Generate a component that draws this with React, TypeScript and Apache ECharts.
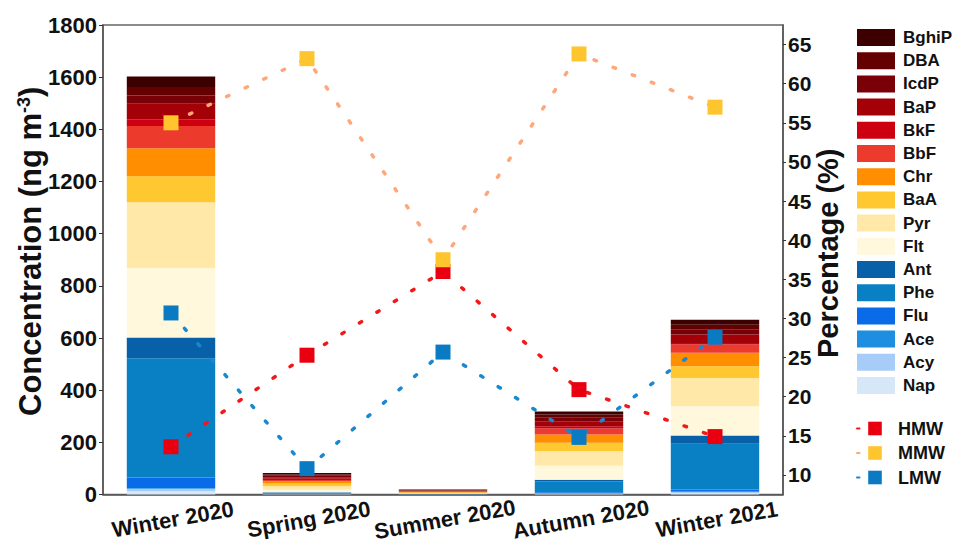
import React, { useEffect, useRef } from "react";
import * as echarts from "echarts";

const categories = ["Winter 2020", "Spring 2020", "Summer 2020", "Autumn 2020", "Winter 2021"];

// PAH concentrations (ng m-3), stacked bottom -> top
const nap = [12, 1, 0.5, 2, 6];
const acy = [10, 1, 0.3, 2, 4];
const ace = [3, 1, 0.3, 2, 2];
const flu = [40, 1, 0.3, 3, 7];
const phe = [457, 4, 1, 42, 176];
const ant = [80, 1, 0.3, 6, 31];
const flt = [266, 10, 1.5, 54, 112];
const pyr = [252, 13, 1.5, 55, 109];
const baa = [100, 10, 1.5, 32, 45];
const chr = [107, 9, 2, 32, 51];
const bbf = [86, 5, 2.5, 23, 32];
const bkf = [26, 4, 1, 9, 6];
const bap = [59, 6, 2, 19, 32];
const icdp = [32, 6, 1.5, 13, 19];
const dba = [32, 5, 1, 13, 19];
const bghip = [41, 5, 2, 11, 19];

// Percentages (%)
const hmw = [13.6, 25.3, 36.0, 20.9, 14.9];
const mmw = [55.0, 63.2, 37.5, 63.8, 57.0];
const lmw = [30.7, 10.8, 25.7, 14.8, 27.6];

const rightTicks = [10, 15, 20, 25, 30, 35, 40, 45, 50, 55, 60, 65];

const FONT = "'Liberation Sans', Arial, Helvetica, sans-serif";

const stackDefs: [string, number[], string][] = [
  ["Nap", nap, "#D6E8F8"],
  ["Acy", acy, "#A8CCF8"],
  ["Ace", ace, "#1E8EE0"],
  ["Flu", flu, "#0A6BE8"],
  ["Phe", phe, "#0A80C4"],
  ["Ant", ant, "#0861A8"],
  ["Flt", flt, "#FFF8DD"],
  ["Pyr", pyr, "#FFE8A8"],
  ["BaA", baa, "#FFC830"],
  ["Chr", chr, "#FF8E00"],
  ["BbF", bbf, "#EC3A2C"],
  ["BkF", bkf, "#CC0010"],
  ["BaP", bap, "#A30008"],
  ["IcdP", icdp, "#7A0008"],
  ["DBA", dba, "#650000"],
  ["BghiP", bghip, "#3D0000"],
];

const lineDefs: [string, number[], string, string][] = [
  ["HMW", hmw, "#F01818", "#E80010"],
  ["MMW", mmw, "#FFA77A", "#FFC52E"],
  ["LMW", lmw, "#1A88D0", "#0A7BC2"],
];

export default function App() {
  const ref = useRef<HTMLDivElement>(null);
  useEffect(() => {
    document.body.style.margin = "0";
    if (!ref.current) return;
    const chart = echarts.init(ref.current, undefined, { renderer: "svg" });
    const barSeries = stackDefs.map(([name, data, color]) => ({
      name,
      type: "bar",
      stack: "pah",
      data,
      barWidth: "65%",
      itemStyle: { color },
      z: 2,
    }));
    const lineSeries = lineDefs.map(([name, data, lineColor, markColor]) => ({
      name,
      type: "line",
      yAxisIndex: 1,
      data,
      symbol: "rect",
      symbolSize: 15,
      lineStyle: { color: lineColor, width: 3.5, type: [2.5, 18], cap: "round" },
      itemStyle: { color: markColor },
      z: 5,
    }));
    const option: any = {
      animation: false,
      backgroundColor: "#ffffff",
      textStyle: { fontFamily: FONT },
      grid: {
        left: 103,
        right: 174,
        top: 25,
        bottom: 54.5,
        containLabel: false,
        outerBoundsMode: "none",
        show: true,
        borderColor: "#666",
        borderWidth: 1.5,
        backgroundColor: "transparent",
      },
      legend: [
        {
          orient: "vertical",
          left: 857,
          top: 29,
          padding: 0,
          itemWidth: 38,
          itemHeight: 17,
          itemGap: 6.2,
          data: stackDefs.map((d) => d[0]).reverse(),
          textStyle: { fontSize: 17, fontWeight: "bold", color: "#111", fontFamily: FONT, lineHeight: 17, padding: [0, 0, 0, 3] },
          icon: "rect",
        },
        {
          orient: "vertical",
          left: 856,
          top: 419.5,
          padding: 0,
          itemWidth: 36,
          itemHeight: 17,
          itemGap: 6.5,
          data: lineDefs.map((d) => d[0]),
          textStyle: { fontSize: 18, fontWeight: "bold", color: "#111", fontFamily: FONT, lineHeight: 17 },
        },
      ],
      xAxis: {
        type: "category",
        data: categories,
        axisLine: { lineStyle: { color: "#555", width: 1.5 } },
        axisTick: { alignWithLabel: true, length: 4, lineStyle: { color: "#333" } },
        axisLabel: {
          rotate: 10,
          align: "center",
          verticalAlign: "top",
          margin: 14,
          fontSize: 22,
          fontWeight: "bold",
          color: "#111",
          fontFamily: FONT,
          interval: 0,
        },
      },
      yAxis: [
        {
          type: "value",
          min: 0,
          max: 1800,
          interval: 200,
          name: "Concentration (ng m{sup|-3})",
          nameLocation: "middle",
          nameRotate: 90,
          nameGap: 57,
          nameMoveOverlap: false,
          nameTextStyle: {
            fontSize: 31,
            fontWeight: "bold",
            color: "#111",
            fontFamily: FONT,
            padding: [0, 0, 0, 17],
            rich: {
              sup: { fontSize: 18, fontWeight: "bold", color: "#111", fontFamily: FONT, verticalAlign: "top", padding: [0, 0, 12, 0] },
            },
          },
          axisLine: { show: true, lineStyle: { color: "#555", width: 1.5 } },
          axisTick: { show: true, length: 4, lineStyle: { color: "#333" } },
          axisLabel: {
            fontSize: 22,
            fontWeight: "bold",
            color: "#111",
            margin: 6,
            fontFamily: FONT,
            formatter: (v: number) => String(v),
          },
          splitLine: { show: false },
        },
        {
          type: "value",
          position: "right",
          min: 7.5,
          max: 67.5,
          name: "Percentage (%)",
          nameLocation: "middle",
          nameRotate: 90,
          nameGap: 30,
          nameMoveOverlap: false,
          nameTextStyle: { fontSize: 29, fontWeight: "bold", color: "#111", fontFamily: FONT, padding: [0, 0, 0, 13] },
          axisLine: { show: true, lineStyle: { color: "#555", width: 1.5 } },
          axisTick: { show: true, length: 3, customValues: rightTicks, lineStyle: { color: "#333" } },
          axisLabel: {
            fontSize: 21,
            fontWeight: "bold",
            color: "#111",
            margin: 5,
            fontFamily: FONT,
            customValues: rightTicks,
            formatter: (v: number) => String(v),
          },
          splitLine: { show: false },
        },
      ],
      series: [...barSeries, ...lineSeries],
    };
    chart.setOption(option);
    return () => chart.dispose();
  }, []);
  return (
    <div
      ref={ref}
      style={{ position: "absolute", left: 0, top: 0, width: 957, height: 549, background: "#fff" }}
    />
  );
}
